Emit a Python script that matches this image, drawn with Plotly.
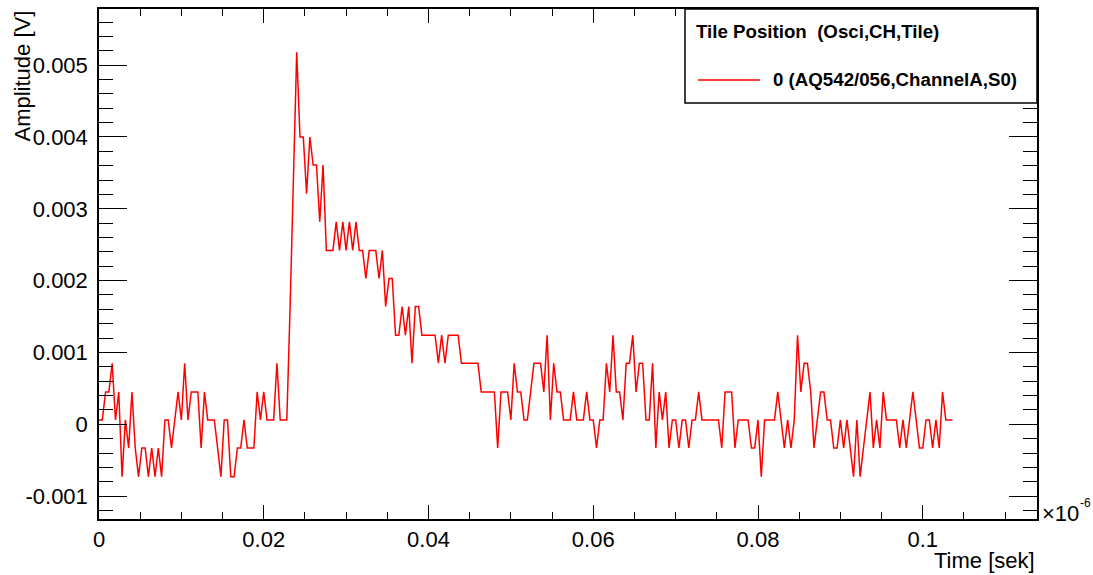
import numpy as np
import plotly.graph_objects as go

# ---------------- data (time in units of 1e-6 s, amplitude in V) ----------------
sample_period = 0.0004
amplitude = [
    0.00006, 0.00006, 0.00045, 0.00045, 0.00085, 0.00006, 0.00045, -0.00073, 0.00006, -0.00033,
    0.00045, -0.00033, -0.00073, -0.00033, -0.00033, -0.00073, -0.00033, -0.00073, -0.00033, -0.00073,
    0.00006, 0.00006, -0.00033, 0.00006, 0.00045, 0.00006, 0.00085, 0.00006, 0.00045, 0.00045,
    0.00045, -0.00033, 0.00045, 0.00006, 0.00006, 0.00006, -0.00033, -0.00073, 0.00006, 0.00006,
    -0.00073, -0.00073, -0.00033, -0.00033, 0.00006, -0.00033, -0.00033, -0.00033, 0.00045, 0.00006,
    0.00045, 0.00006, 0.00006, 0.00006, 0.00085, 0.00006, 0.00006, 0.00006, 0.00164, 0.00361,
    0.00518, 0.00400, 0.00400, 0.00321, 0.00400, 0.00361, 0.00361, 0.00282, 0.00361, 0.00242,
    0.00242, 0.00242, 0.00282, 0.00242, 0.00282, 0.00242, 0.00282, 0.00242, 0.00282, 0.00242,
    0.00242, 0.00203, 0.00242, 0.00242, 0.00242, 0.00203, 0.00242, 0.00164, 0.00203, 0.00203,
    0.00124, 0.00124, 0.00164, 0.00124, 0.00164, 0.00085, 0.00164, 0.00164, 0.00124, 0.00124,
    0.00124, 0.00124, 0.00124, 0.00085, 0.00124, 0.00085, 0.00124, 0.00124, 0.00124, 0.00124,
    0.00085, 0.00085, 0.00085, 0.00085, 0.00085, 0.00085, 0.00045, 0.00045, 0.00045, 0.00045,
    0.00045, -0.00033, 0.00045, 0.00045, 0.00045, 0.00006, 0.00085, 0.00045, 0.00045, 0.00006,
    0.00006, 0.00045, 0.00085, 0.00085, 0.00085, 0.00045, 0.00124, 0.00006, 0.00085, 0.00045,
    0.00045, 0.00006, 0.00006, 0.00006, 0.00045, 0.00006, 0.00006, 0.00006, 0.00045, 0.00006,
    0.00006, -0.00033, 0.00006, 0.00006, 0.00085, 0.00045, 0.00124, 0.00045, 0.00045, 0.00006,
    0.00085, 0.00085, 0.00124, 0.00045, 0.00085, 0.00085, 0.00006, 0.00006, 0.00085, -0.00033,
    0.00045, 0.00006, 0.00045, -0.00033, 0.00006, 0.00006, -0.00033, 0.00006, 0.00006, -0.00033,
    0.00006, 0.00006, 0.00045, 0.00006, 0.00006, 0.00006, 0.00006, 0.00006, 0.00006, -0.00033,
    0.00045, 0.00045, 0.00045, -0.00033, 0.00006, 0.00006, 0.00006, 0.00006, -0.00033, -0.00033,
    0.00006, -0.00073, 0.00006, 0.00006, 0.00006, 0.00006, 0.00045, 0.00006, -0.00033, 0.00006,
    -0.00033, 0.00006, 0.00124, 0.00045, 0.00085, 0.00085, 0.00045, -0.00033, 0.00006, 0.00045,
    0.00045, 0.00006, 0.00006, -0.00033, -0.00033, 0.00006, -0.00033, 0.00006, -0.00033, -0.00073,
    0.00006, -0.00073, -0.00033, 0.00006, 0.00045, -0.00033, 0.00006, -0.00033, 0.00045, 0.00006,
    0.00006, 0.00006, 0.00006, -0.00033, 0.00006, -0.00033, 0.00006, 0.00045, 0.00006, -0.00033,
    -0.00033, 0.00006, 0.00006, -0.00033, 0.00006, -0.00033, 0.00045, 0.00006, 0.00006, 0.00006,
]
time = np.arange(len(amplitude)) * sample_period

x_tick_values = [0, 0.02, 0.04, 0.06, 0.08, 0.1]
x_tick_labels = ["0", "0.02", "0.04", "0.06", "0.08", "0.1"]
y_tick_values = [-0.001, 0, 0.001, 0.002, 0.003, 0.004, 0.005]
y_tick_labels = ["-0.001", "0", "0.001", "0.002", "0.003", "0.004", "0.005"]

series_name = "0 (AQ542/056,ChannelA,S0)"
legend_header = "Tile Position  (Osci,CH,Tile)"
x_title = "Time [sek]"
y_title = "Amplitude [V]"
x_multiplier_base = "×10"
x_multiplier_exp = "-6"

# ---------------- layout geometry (window pixels) ----------------
W, H = 1093, 575
L, R, T, B = 99, 1037, 9, 519
FONT = "Liberation Sans, Arial, Helvetica, sans-serif"


def px(xp):
    """window pixel x -> paper x"""
    return (xp - L) / (R - L)


def py(yp):
    """window pixel y -> paper y"""
    return (B - yp) / (B - T)


fig = go.Figure()
fig.add_trace(go.Scatter(
    x=time, y=amplitude, mode="lines", name=series_name,
    line=dict(color="#ff0000", width=1.5), showlegend=False,
))

fig.update_layout(
    width=W, height=H,
    margin=dict(l=L, r=W - R, t=T, b=H - B, pad=0, autoexpand=False),
    paper_bgcolor="white", plot_bgcolor="white",
    font=dict(family=FONT, size=22, color="black"),
    showlegend=False,
)
fig.update_xaxes(
    range=[0, 0.11387], showgrid=False, zeroline=False,
    showline=True, linecolor="black", linewidth=1.5, mirror="allticks",
    ticks="inside", ticklen=14, tickwidth=1.2, tickcolor="black",
    tickvals=x_tick_values, ticktext=x_tick_labels,
    tickfont=dict(family=FONT, size=22, color="black"),
    minor=dict(dtick=0.005, tick0=0, ticks="inside", ticklen=7, tickwidth=1.2, tickcolor="black", showgrid=False),
)
fig.update_yaxes(
    range=[-0.001319, 0.005782], showgrid=False, zeroline=False,
    showline=True, linecolor="black", linewidth=1.5, mirror="allticks",
    ticks="inside", ticklen=28, tickwidth=1.2, tickcolor="black",
    tickvals=y_tick_values, ticktext=y_tick_labels,
    tickfont=dict(family=FONT, size=22, color="black"),
    ticklabelstandoff=5,
    minor=dict(dtick=0.0002, tick0=0, ticks="inside", ticklen=14, tickwidth=1.2, tickcolor="black", showgrid=False),
)

annotations = [
    dict(text=x_title, xref="paper", yref="paper", x=1.0, y=py(560), xanchor="right", yanchor="middle",
         showarrow=False, font=dict(family=FONT, size=22, color="black")),
    dict(text=y_title, xref="paper", yref="paper", x=px(22), y=py(9), xanchor="center", yanchor="top",
         textangle=-90, showarrow=False, font=dict(family=FONT, size=22, color="black")),
    dict(text=x_multiplier_base, xref="paper", yref="paper", x=px(1041), y=py(513), xanchor="left", yanchor="middle",
         showarrow=False, borderpad=0, font=dict(family=FONT, size=22, color="black")),
    dict(text=x_multiplier_exp, xref="paper", yref="paper", x=px(1079), y=py(503), xanchor="left", yanchor="middle",
         showarrow=False, borderpad=0, font=dict(family=FONT, size=12, color="black")),
    dict(text="<b>" + legend_header + "</b>", xref="paper", yref="paper", x=px(694), y=py(32),
         xanchor="left", yanchor="middle", showarrow=False, font=dict(family=FONT, size=18.7, color="black")),
    dict(text="<b>" + series_name + "</b>", xref="paper", yref="paper", x=px(771), y=py(80),
         xanchor="left", yanchor="middle", showarrow=False, font=dict(family=FONT, size=18.7, color="black")),
]
fig.update_layout(annotations=annotations)

shapes = [
    dict(type="rect", xref="paper", yref="paper", x0=px(685), x1=1.0, y0=py(103), y1=1.0,
         line=dict(color="black", width=1.5), fillcolor="white", layer="above"),
    dict(type="line", xref="paper", yref="paper", x0=px(698), x1=px(760), y0=py(80), y1=py(80),
         line=dict(color="#ff0000", width=1.5), layer="above"),
]
fig.update_layout(shapes=shapes)

# remove the default page margin so the figure fills the window exactly
page_fix = "document.body.style.margin='0px';document.body.style.overflow='hidden';"
fig.write_html("out.html", post_script=page_fix, config={"displayModeBar": False})
